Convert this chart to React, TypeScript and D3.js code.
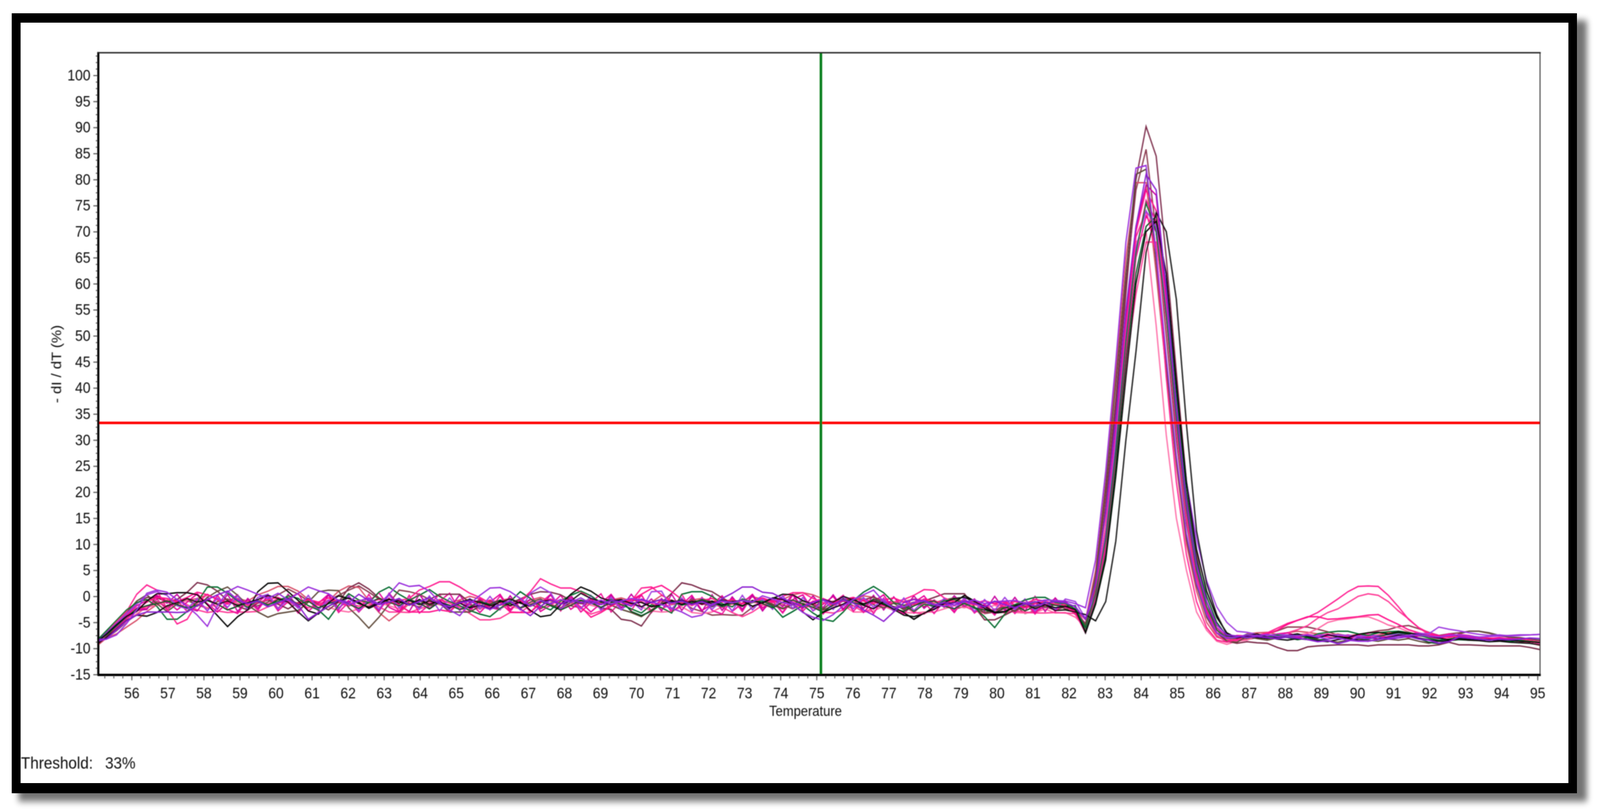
import React, { useRef, useEffect } from 'react';
import * as d3 from 'd3';

// sampled temperatures, split in three stretches: flat baseline, melt peak, tail
const tempsBase = [
  55.02, 55.3, 55.58, 55.86, 56.14, 56.42, 56.7, 56.98, 57.26, 57.54,
  57.82, 58.1, 58.38, 58.66, 58.94, 59.22, 59.5, 59.78, 60.06, 60.34,
  60.62, 60.9, 61.18, 61.46, 61.74, 62.02, 62.3, 62.58, 62.86, 63.14,
  63.42, 63.7, 63.98, 64.26, 64.54, 64.82, 65.1, 65.38, 65.66, 65.94,
  66.22, 66.5, 66.78, 67.06, 67.34, 67.62, 67.9, 68.18, 68.46, 68.74,
  69.02, 69.3, 69.58, 69.86, 70.14, 70.42, 70.7, 70.98, 71.26, 71.54,
  71.82, 72.1, 72.38, 72.66, 72.94, 73.22, 73.5, 73.78, 74.06, 74.34,
  74.62, 74.9, 75.18, 75.46, 75.74, 76.02, 76.3, 76.58, 76.86, 77.14,
  77.42, 77.7, 77.98, 78.26, 78.54, 78.82, 79.1, 79.38, 79.66, 79.94,
  80.22, 80.5, 80.78, 81.06, 81.34, 81.62, 81.9
];
const tempsPeak = [82.18, 82.46, 82.74, 83.02, 83.3, 83.58, 83.86, 84.14, 84.42, 84.7, 84.98, 85.26, 85.54, 85.82, 86.1, 86.38, 86.66];
const tempsTail = [
  86.94, 87.22, 87.5, 87.78, 88.06, 88.34, 88.62, 88.9, 89.18, 89.46,
  89.74, 90.02, 90.3, 90.58, 90.86, 91.14, 91.42, 91.7, 91.98, 92.26,
  92.54, 92.82, 93.1, 93.38, 93.66, 93.94, 94.22, 94.5, 94.78, 95.06
];

const curveColours = [
  '#000000', '#111111', '#006b2d', '#004f22', '#7a2a48', '#8a3a50', '#5f4a3a',
  '#9a2fdc', '#8a1fd0', '#a040e0', '#ff1f90', '#ff3a96', '#e8009a', '#f0109a',
  '#d8506a', '#ff0f8a', '#ff6aa6', '#c800a0'
];
const drawOrder = [5, 14, 16, 11, 12, 13, 17, 4, 6, 10, 15, 9, 3, 2, 0, 1, 7, 8];

const baseCurves = [
  [-8.8,-7.2,-5.4,-3.8,-2.9,-0.9,0.5,0.5,0.7,0.7, 0.3,-1.6,-3.7,-5.8,-3.9,-2.6,0.9,2.5,2.6,0.9, -0.8,-2.8,-3.4,-1.2,0.1,-0.4,-1.1,-2.3,-1.4,-0.6, -0.9,-1.7,-0.6,-1.5,-1.0,-2.1,-1.3,-2.2,-1.7,-2.4, -0.9,-1.8,-1.0,-2.7,-3.9,-3.6,-1.6,0.4,1.8,1.0, -0.3,-0.9,-0.6,-1.4,-1.1,-2.0,-1.6,-0.8,-1.5,-0.9, -1.5,-0.9,-1.7,-1.0,-0.8,-1.9,-1.2,-0.3,-0.6,-1.6, -3.0,-4.5,-3.1,-2.2,-1.5,-0.5,-1.7,-2.4,-1.0,-2.1, -3.1,-4.4,-3.2,-2.5,-1.4,-1.2,0.2,-0.9,-2.3,-3.2, -3.0,-2.1,-1.4,-1.0,-1.6,-2.2,-1.9],
  [-9.2,-7.9,-6.3,-4.6,-3.6,-3.8,-3.1,-1.8,-1.2,-0.4, -1.1,-0.7,-1.5,-0.9,-1.7,-1.2,-0.6,0.2,-0.4,-1.1, -3.0,-4.7,-3.2,-1.9,-0.9,-0.3,-1.4,-2.0,-1.1,-0.5, -1.3,-0.8,-1.6,-0.9,-1.4,-2.3,-1.1,-0.6,-1.2,-1.8, -1.1,-0.5,-1.3,-1.9,-1.0,-0.7,-1.5,-0.9,0.6,-0.4, -1.0,-1.6,-0.8,-1.3,-2.0,-1.1,-0.6,-1.2,-0.7,-1.5, -0.9,-1.4,-0.7,-1.2,-1.8,-0.8,-1.3,-0.4,0.4,0.3, -0.8,-1.5,-0.6,-1.1,0.0,-0.7,-1.4,-0.9,-1.6,-2.5, -3.6,-3.9,-3.3,-2.0,-1.2,-0.4,-0.2,-1.0,-1.9,-3.0, -2.9,-1.8,-1.2,-2.4,-1.6,-2.7,-2.6],
  [-8.6,-6.6,-4.6,-2.6,-1.2,-0.6,-1.9,-4.4,-4.4,-2.9, -1.1,1.8,1.8,0.6,-0.9,-2.1,-0.8,-1.6,-1.0,0.1, -0.4,-1.8,-2.6,-4.4,-1.7,0.5,-0.7,-1.2,0.8,1.8, 0.4,-0.7,0.2,1.3,0.0,-1.0,-1.8,-2.7,-3.4,-3.9, -2.3,-1.0,0.9,-0.4,-1.8,-2.6,-0.9,0.2,1.0,0.1, -1.2,-0.6,-1.6,-2.4,-3.2,-1.6,-2.2,-3.2,0.4,0.9, 0.9,0.0,-1.4,-2.0,-0.5,-1.1,-0.9,-1.9,-4.0,-2.9, -1.7,-3.2,-4.4,-4.8,-3.0,-0.8,0.8,1.9,0.7,-1.2, -1.7,-2.9,-1.5,-1.9,-0.8,-0.6,-1.4,-2.1,-3.9,-6.0, -3.4,-1.6,-0.7,-0.2,-0.2,-1.2,-1.4],
  [-8.9,-7.4,-5.7,-3.9,-2.4,-1.8,-1.4,-0.9,-1.6,-2.2, -1.7,-0.8,-1.5,-2.6,-1.9,-1.2,-1.0,-1.7,-0.6,-0.3, -1.6,-0.9,-2.2,-1.4,-0.8,-1.5,-2.3,-1.2,-0.4,-1.1, -1.8,-0.6,-1.3,-2.4,-1.1,-1.7,-2.5,-2.0,-1.0,-1.5, -0.7,-1.4,-2.2,-1.6,-0.9,-1.8,-2.6,-1.7,-0.8,-1.3, -2.1,-1.2,-0.7,-2.9,-3.7,-2.8,-1.5,-0.9,-1.7,-1.2, -0.6,-1.1,-2.0,-1.3,-1.9,-0.8,-1.4,-2.2,-1.1,-0.7, -1.5,-2.1,-3.0,-1.6,-0.6,-1.2,-1.7,-0.5,-1.3,-2.4, -2.9,-1.8,-1.1,-0.9,-1.9,-2.4,-1.3,-2.2,-2.6,-3.1, -2.2,-1.6,-2.8,-1.9,-1.2,-1.7,-1.9],
  [-9.4,-7.8,-5.6,-3.2,-1.4,-0.2,-0.3,-1.0,-0.6,0.8, 2.65,2.2,1.0,-0.8,-1.9,-2.6,-1.3,-0.7,-1.5,-2.4, -1.2,-0.4,-1.6,-2.6,-1.1,1.6,2.6,1.4,-0.3,-1.2, -0.7,-1.4,-2.1,-0.6,0.4,0.4,0.4,-1.2,-0.8,-1.7, -2.4,-1.3,-0.5,0.4,0.9,0.8,0.3,-0.8,-1.4,-1.0, -2.3,-2.5,-4.4,-4.7,-5.7,-3.0,-1.2,0.6,2.6,2.2, 1.4,0.9,-0.3,-1.3,-1.9,-1.0,-0.6,-1.7,-2.4,-1.5, -0.8,-1.7,-2.6,-1.8,-0.9,-0.4,-0.7,-0.1,-1.1,-2.0, -2.2,-1.4,-0.9,-0.2,0.5,0.5,0.5,-2.0,-4.5,-4.5, -3.6,-2.6,-1.9,-2.1,-1.2,-1.7,-1.1],
  [-9.0,-8.0,-6.6,-4.9,-3.5,-1.9,-1.0,-2.1,-1.3,-0.8, -1.6,-2.3,-1.0,-0.5,-1.4,-2.1,-1.8,-1.1,0.3,1.4, 0.4,-0.9,-1.7,-0.8,0.2,1.2,2.0,0.8,-0.5,-1.3, 1.2,0.9,0.4,-0.6,-1.3,-2.0,-0.9,-1.6,-2.3,-1.2, -0.8,-1.9,-0.6,-1.5,-2.4,-1.3,-0.7,-1.8,-2.2,-1.0, -1.4,-0.9,-1.7,-0.6,-1.2,-2.0,-0.8,-1.6,-1.1,-2.3, -2.9,-3.6,-3.5,-3.6,-3.6,-2.1,-1.2,-0.8,-1.6,-2.4, -1.3,-2.2,-0.7,-1.5,-0.9,-1.8,-2.3,-0.6,-1.4,-2.2, -1.7,-1.1,-2.0,-0.8,-1.6,-2.5,-1.9,-1.2,-3.3,-3.0, -2.4,-1.7,-3.3,-2.8,-2.0,-2.6,-2.0],
  [-8.4,-6.9,-5.0,-3.1,-0.9,0.3,-1.4,-2.9,-1.5,-0.4, -1.9,-0.2,1.0,1.8,0.2,-1.7,-3.0,-4.0,-3.3,-3.0, -2.7,-1.1,0.9,1.2,1.1,-2.2,-4.0,-6.1,-4.0,-1.5, -0.6,-1.6,-0.9,-1.8,-1.3,-3.0,-3.0,-3.0,-1.9,-0.8, -1.7,-0.9,-2.2,-1.1,-0.5,-1.6,-2.3,-1.2,-0.7,-1.4, -0.9,-1.7,-2.5,-3.1,-3.9,-2.6,-1.4,-0.7,-1.5,-0.6, -1.3,-2.0,-1.1,-0.7,-1.8,-1.2,-0.5,-1.5,-2.3,-1.6, -0.9,-1.7,-2.4,-1.0,-0.3,-0.8,-0.4,-1.6,-2.2,-1.3, -2.6,-1.4,-1.0,-1.8,-0.7,-0.3,-1.2,-2.3,-3.1,-2.6, -2.0,-2.9,-1.5,-1.3,-2.1,-1.6,-2.4],
  [-8.6,-8.2,-7.4,-5.2,-2.6,0.6,1.2,0.8,-0.6,-1.9, -3.6,-5.75,-1.8,0.9,1.9,1.2,0.4,-0.4,0.6,-0.7, 0.6,1.8,1.1,0.5,-0.8,-1.6,-0.9,-0.3,-1.5,0.4, 2.6,1.9,2.1,1.0,-1.1,-2.6,-3.7,-1.4,0.2,1.6, 1.7,0.9,-0.4,-1.9,-0.8,-1.4,-0.6,-1.1,-0.3,-1.4, -0.7,-1.5,-0.9,-0.4,-0.7,-1.1,-1.6,-2.3,-3.0,-4.0, -3.6,-1.5,-0.9,-1.2,-0.8,-1.1,0.1,-0.5,-1.2,-1.6, -3.1,-4.0,-4.6,-3.5,-1.8,-0.6,0.3,1.2,-1.0,-2.2, -2.0,-1.2,-0.8,-1.6,-1.9,-1.3,-1.1,-0.7,-1.4,-1.0, -0.9,-0.8,-1.3,-1.1,-0.7,-0.8,-0.9],
  [-8.3,-8.2,-6.4,-4.7,-3.6,-3.0,-3.0,-3.0,-3.1,-3.0, -1.8,-0.6,0.3,1.0,-0.7,-1.4,-0.9,-2.0,-1.2,-0.5, -1.7,-4.4,-3.1,-1.9,-0.7,-1.2,0.4,-0.8,-1.6,-1.1, -0.4,-1.7,-1.0,-0.2,-1.4,-2.0,-1.2,-0.9,-1.8,-2.5, -1.6,-0.9,-2.4,-3.7,-1.9,-0.7,-1.5,-0.6,-1.2,-0.9, -1.6,-0.8,-1.1,-1.9,-0.5,-1.2,-0.6,-1.3,-0.9,-1.6, -1.0,-1.8,-0.4,0.6,1.8,1.8,0.8,0.6,-0.4,-1.2, -2.0,-1.1,-0.6,-1.5,-0.7,-1.3,-2.6,-3.6,-4.8,-3.0, -1.2,-0.6,-0.9,-1.6,-1.2,-1.7,-0.9,-1.4,-2.0,-0.9, -1.6,-2.2,-1.4,-1.8,-1.3,-1.0,-1.2],
  [-8.8,-7.0,-5.2,-3.3,-1.5,0.3,0.9,0.2,-1.8,-2.4, -0.4,-2.8,-0.3,-2.1,0.1,-2.5,-0.2,0.4,-2.4,-0.6, -2.3,0.2,-2.6,-0.7,-2.4,0.1,-2.8,-0.6,-2.5,0.3, -2.2,-0.4,-2.5,0.1,-2.8,-0.3,-2.7,-0.4,-2.4,0.0, -2.5,-0.7,-2.6,0.6,1.8,0.7,-2.5,-0.5,-2.4,0.2, -2.7,-0.2,-2.6,-0.9,-2.6,0.9,1.0,-2.4,-0.3,-2.8, -0.4,-2.5,-0.6,-2.8,0.2,-2.6,-0.5,-2.5,0.1,-2.3, -0.2,-2.8,-0.7,-2.5,0.0,-2.4,-0.2,-2.1,-0.5,-2.9, -0.3,-2.7,-0.7,-2.3,-0.4,-2.5,-0.3,-2.9,-0.6,-2.7, -0.2,-2.5,-0.5,-2.8,-0.9,-2.6,-0.5],
  [-9.0,-7.1,-4.9,-2.9,0.4,2.2,1.2,-2.4,-5.3,-4.4, -1.2,0.4,-0.7,-1.5,-0.9,-1.7,-1.2,-0.6,-0.2,-1.1, -1.5,-0.8,-1.7,-1.2,-0.7,-1.3,-1.9,-1.0,-0.6,-1.4, -0.8,-0.4,1.2,1.9,2.8,2.8,1.8,0.6,-0.2,-1.3, -1.0,-1.8,-0.9,0.9,3.4,2.4,1.6,1.6,0.9,-0.5, -1.3,-0.7,-1.5,-0.9,1.6,1.8,0.3,-1.0,-1.4,-0.8, -1.6,-1.1,-0.6,-1.3,-1.8,-0.9,-0.5,-1.2,0.0,0.7, 0.7,-0.4,-1.2,-1.7,-0.8,-1.3,-0.6,-1.0,-1.8,-1.1, -0.6,0.2,1.3,1.2,-0.3,-1.1,-0.7,-1.4,-0.8,-1.5, -1.9,-1.0,-1.4,-0.6,-0.9,-1.5,-1.7],
  [-9.3,-8.0,-6.1,-4.4,-2.8,-1.9,-1.3,-0.9,-0.6,-1.6, -2.6,-3.1,-2.8,-3.1,-3.0,-3.0,-2.9,-2.0,-1.4,-0.8, -1.3,-2.2,-1.5,-0.7,-1.2,-1.9,-0.9,-1.4,-2.0,-3.0, -3.0,-3.1,-2.4,-1.8,-0.7,-1.3,-2.1,-3.3,-4.5,-4.5, -4.2,-3.1,-3.1,-1.7,-0.9,-1.6,-0.7,-1.2,-2.3,-3.4, -2.8,-1.7,-1.0,-1.6,-0.8,-1.3,-2.4,-1.5,-0.9,-1.8, -0.9,-1.4,-2.1,-3.1,-3.9,-3.0,-1.7,-1.0,-0.7,-1.5, -2.2,-1.4,-3.0,-3.2,-2.6,-1.8,-3.0,-2.3,-1.6,-1.0, -1.9,-3.1,-3.4,-2.2,-1.6,-1.1,-1.9,-2.8,-3.2,-2.4, -3.2,-2.8,-3.0,-3.2,-3.2,-3.1,-3.2],
  [-8.9,-7.3,-5.5,-3.4,-1.8,-0.8,0.2,-0.9,-2.6,-1.1, 0.5,-1.4,-3.0,-1.2,0.3,-2.6,-1.1,0.4,-2.3,-0.4, 0.6,-2.8,-1.3,0.4,-2.2,-0.8,-3.0,-0.9,0.7,-2.1, -3.0,-1.0,0.5,-2.4,-0.9,0.6,-2.7,-1.2,-3.1,-1.1, 0.4,-2.5,-1.0,0.6,-2.9,-1.7,0.2,-2.5,-1.1,-3.0, -1.3,0.4,-2.2,-1.1,0.3,-2.9,-0.4,-3.0,-1.6,0.2, -2.7,-1.5,0.1,-2.9,-1.3,0.4,-2.2,-0.9,-3.2,-0.6, 0.3,-2.8,-1.5,0.0,-2.7,-0.5,-3.1,-1.0,0.3,-2.5, -3.4,-1.2,0.1,-2.4,-1.0,-3.1,-0.4,-2.9,-1.5,-3.2, -1.2,-2.9,-0.6,-3.1,-1.8,-0.4,-2.1],
  [-8.5,-6.9,-5.2,-3.6,-2.2,-2.4,-0.5,-2.6,-0.8,-2.9, -0.7,-2.8,0.2,-2.5,-3.3,-0.6,-2.7,0.1,-2.8,-1.0, -3.2,-0.5,-2.5,0.3,-3.1,-1.1,-2.8,0.4,-2.7,-0.3, -2.9,0.2,-3.2,-1.6,0.4,-2.9,-0.9,-3.0,-0.3,-2.6, 0.1,-2.9,-0.4,-3.1,-1.3,0.4,-2.8,-0.2,-3.0,-1.2, 0.5,-3.0,-0.9,-2.7,0.3,-3.1,-0.6,-2.8,0.4,-2.9, -0.2,-2.7,-3.4,-0.4,-2.9,0.2,-2.6,-0.8,-3.1,0.3, -2.8,-0.9,-3.4,-1.2,0.2,-2.9,-0.5,-3.3,-0.3,-2.8, -0.4,-3.2,-1.1,-3.3,-0.9,-2.9,-0.7,-3.2,-1.6,-3.6, -1.0,-3.3,-1.2,-3.4,-0.9,-2.9,-0.8],
  [-9.6,-8.0,-7.2,-5.9,-4.6,-2.9,-1.6,-0.7,-1.2,-0.8, -0.4,0.3,-0.6,-1.1,-0.4,-0.9,0.3,1.0,1.9,1.9, 1.0,-0.6,-1.4,-0.9,1.0,2.0,1.7,-0.8,-3.1,-4.7, -3.2,-1.4,-0.8,-1.3,-0.6,-1.2,-0.7,0.0,-0.5,-1.1, -0.8,-0.4,-1.3,-0.7,-0.2,-0.9,-1.4,-0.5,-1.0,-0.6, -1.2,-0.7,-0.3,-0.9,-0.6,-1.1,0.2,-0.8,-1.3,-0.7, -0.4,-1.0,-0.6,-1.2,-0.8,-0.1,-0.5,-1.1,-0.6,0.3, 0.7,0.3,-0.5,-1.1,-0.4,-0.9,0.1,-0.2,-0.8,-1.3, -1.0,-0.5,-0.8,-1.3,-0.6,-1.0,-1.5,-0.9,-1.4,-1.1, -1.5,-1.0,-1.6,-1.9,-1.2,-1.4,-1.1],
  [-8.7,-7.2,-5.6,-3.9,-2.5,-1.1,-0.2,-0.4,-1.0,-0.2, 0.8,0.3,-0.5,-1.2,-0.6,-1.3,-0.8,-1.5,-0.4,-0.9, -1.4,-0.6,-1.1,-0.3,-1.0,-1.6,-0.7,-1.2,-0.5,-1.0, -1.5,-3.0,-3.0,-3.0,-2.6,-2.9,-1.3,-0.9,-1.4,-0.7, -1.2,-3.0,-3.1,-3.1,-1.0,-0.5,-1.3,-0.8,-2.0,-4.0, -3.1,-1.9,-1.0,-0.7,0.4,1.5,2.1,0.9,-0.6,-1.3, -0.8,-0.4,-1.1,-0.6,-1.4,-0.9,-0.3,-1.0,-0.5,-1.2, -1.8,-1.0,-0.4,-1.3,-0.6,-0.2,-0.9,-1.4,-0.7,-0.3, -1.1,-1.6,-0.5,-0.9,-1.3,-0.7,-1.2,-1.6,-0.9,-1.4, -1.0,-1.6,-2.2,-1.4,-1.0,-1.7,-1.6],
  [-9.1,-7.7,-6.2,-4.9,-3.3,-2.1,-1.7,-1.1,-1.5,-0.7, -1.4,-2.2,-1.6,-0.9,-1.3,-2.0,-1.2,-1.7,-0.8,-1.3, -1.9,-1.0,-1.5,-2.1,-2.7,-3.0,-2.4,-1.7,-1.2,-1.8, -2.4,-1.5,-2.0,-1.1,-1.6,-2.2,-1.3,-1.8,-2.5,-1.7, -1.2,-1.9,-2.4,-1.4,-0.8,-1.5,-2.1,-1.6,-1.0,-1.7, -2.2,-1.3,-0.8,-1.5,-2.0,-2.8,-3.0,-2.9,-2.0,-3.1, -3.3,-3.0,-2.0,-1.5,-1.9,-1.1,-1.6,-2.2,-1.4,-1.0, -1.6,-2.3,-1.4,-0.9,-1.7,-3.0,-3.0,-2.8,-1.9,-2.7, -3.1,-3.2,-3.0,-3.0,-2.4,-1.8,-2.2,-1.6,-2.3,-1.7, -2.6,-3.1,-3.2,-3.1,-2.4,-3.2,-3.1],
  [-8.7,-7.5,-5.9,-4.1,-2.7,-2.5,0.1,-1.3,0.4,-2.2, -2.8,-0.1,-2.5,0.4,-2.9,-0.4,-2.3,0.2,-2.5,0.4, -2.1,-0.6,-2.8,0.3,-2.6,0.2,-2.7,-0.5,-2.9,0.6, -1.7,-2.9,0.4,-2.3,-0.8,-2.3,0.3,-2.5,-0.7,-2.1, -2.6,0.1,-2.3,-0.5,-2.2,0.3,-2.4,0.2,-2.3,-0.5, -2.5,0.2,-2.2,0.4,-2.1,-0.5,-2.8,0.4,-2.7,-0.2, -2.9,0.3,-2.7,-0.1,-2.5,0.2,-2.8,-0.4,-2.0,0.4, -2.3,0.1,-2.2,0.3,-2.4,-0.4,-2.3,0.2,-2.6,-0.1, -2.5,0.1,-2.3,-0.7,-2.1,0.1,-1.9,-0.5,-2.9,0.0, -2.7,-0.2,-2.8,0.0,-2.9,-0.3,-2.5]
];

const peakCurves = [
  [-2.6,-7,-1.5,7,23,42,60,70,72,62,41,22,9,1,-4,-7,-8],
  [-3,-3.5,-4.7,-1,10.6,30,47,66,73.7,70,57,33,12.5,2.5,-3.5,-7.3,-8],
  [-2.4,-6,0.5,11,28,49,66,75.5,70,54,34,17,5,-2,-6.4,-8,-8],
  [-1.8,-6.8,-1,8,25,45,62,71,73,60,39,20,7,0,-5,-7.6,-7.8],
  [-3.5,-5.6,1.5,17,36,58,80,90.2,84.5,65,43,22,8,-1,-6.4,-8.6,-9],
  [-3,-5.2,3,19,38,60,78,85.8,70,50,30,14,3,-4,-7.5,-8.8,-8.5],
  [-2.8,-5.5,4,21,41,62,81,82,64,44,26,11,2,-4,-7,-8.6,-8.8],
  [-1.4,-2.2,7,24,45,68,82.2,82.7,66,46,27,12,2.5,-3.5,-7,-8,-7.8],
  [-2,-4.4,2.5,16,34,55,71,81,78,59,36,18,6,-1,-5.5,-7.4,-7.6],
  [-1,-4.2,0.5,12,30,50,67,74,71,55,38,22,11,3,-2,-5,-6.7],
  [-3.5,-6.2,1,13,31,52,69,74,66,42,22,8,-1,-6,-8.4,-8.8,-8.2],
  [-3.3,-7,-1,8.5,24,44,58,68,68,53,32,15,3,-4,-7.5,-8.7,-8.5],
  [-2.8,-6.5,-0.5,9,26,46,65,73,70,54,33,16,4,-3,-7,-8.6,-8.3],
  [-3.2,-6.8,0,10,28,48,66,76,72,55,35,17,5,-2.5,-6.5,-8.2,-8],
  [-2.5,-4.5,5,22,43,65,79.4,79.4,62,43,25,10,1,-5,-7.8,-8.5,-8.2],
  [-3,-6,0.5,12,29,51,70,78,74,56,36,18,6,-2,-6.5,-8,-7.5],
  [-4,-6,2,15,33,54,68,70,52,31,15,5,-3,-6.5,-8.6,-9.2,-8.6],
  [-2.2,-5.5,0.8,13,32,53,71,79,77,57,37,19,7,-1,-6,-7.8,-7.7]
];

const tailCurves = [
  [-7.6,-7.9,-8.1,-7.8,-7.5,-7.2,-7.7,-8.0,-7.4,-7.7,-7.9,-7.3,-7.0,-6.9,-7.2,-6.8,-7.1,-7.3,-7.6,-8.0,-8.3,-8.1,-8.2,-8.4,-8.3,-8.5,-8.4,-8.6,-8.7,-8.9],
  [-7.5,-7.2,-7.8,-8.2,-8.4,-8.1,-8.3,-8.5,-8.7,-8.3,-8.0,-8.4,-8.6,-8.2,-7.9,-7.4,-7.6,-8.0,-8.3,-8.6,-8.5,-8.2,-8.4,-8.5,-8.7,-8.6,-8.8,-8.9,-9.0,-9.3],
  [-7.3,-7.6,-7.8,-7.4,-7.7,-7.5,-7.9,-7.2,-6.9,-6.7,-6.7,-7.2,-7.5,-7.0,-6.8,-6.7,-6.9,-7.4,-8.0,-8.4,-8.2,-7.9,-8.1,-8.2,-8.4,-8.3,-8.6,-8.5,-8.6,-8.8],
  [-8.0,-7.7,-8.1,-7.6,-7.9,-8.3,-8.0,-8.4,-8.2,-7.8,-8.1,-8.5,-8.2,-7.7,-7.3,-7.0,-7.3,-8.1,-8.8,-9.1,-8.5,-8.3,-8.4,-8.2,-8.3,-8.5,-8.3,-8.4,-8.6,-8.8],
  [-8.7,-8.9,-9,-9.8,-10.4,-10.4,-9.7,-9.5,-9.4,-9.3,-9.3,-9.3,-9.5,-9.3,-9.3,-9.3,-9.3,-9.5,-9.5,-9.3,-8.8,-9.3,-9.3,-9.4,-9.5,-9.5,-9.5,-9.5,-9.8,-10.2],
  [-8.3,-7.9,-7.2,-6.6,-5.9,-5.9,-5.9,-6.3,-6.8,-7.4,-7.6,-7.5,-7,-6.6,-6.4,-5.8,-5.6,-6.2,-6.9,-7.5,-7.2,-7,-6.7,-6.7,-7.1,-7.6,-7.8,-7.9,-8.2,-8.5],
  [-7.7,-8.1,-8.4,-8.0,-7.6,-7.3,-7.8,-8.3,-8.5,-8.8,-8.4,-8.1,-8.4,-8.6,-8.2,-8.4,-8.1,-8.6,-9.0,-8.6,-8.7,-7.2,-6.7,-6.7,-7.0,-7.5,-7.8,-8.0,-8.2,-8.4],
  [-7.4,-7.6,-7.3,-7.7,-7.5,-7.6,-7.4,-7.8,-8.2,-8.0,-8.4,-8.6,-8.6,-8.3,-8.0,-7.7,-7.5,-7.4,-7.6,-7.8,-7.5,-7.4,-7.6,-7.8,-7.7,-7.6,-7.5,-7.4,-7.4,-7.3],
  [-7.9,-7.7,-7.9,-8.1,-7.8,-8.0,-8.3,-8.7,-8.5,-9.1,-8.6,-7.9,-8.1,-7.8,-8.2,-8.0,-7.7,-8.2,-8.4,-9.0,-8.7,-7.8,-8.0,-8.2,-8.4,-8.2,-8.3,-8.2,-8.0,-8.1],
  [-6.9,-7.3,-7.5,-7.3,-7.4,-7.5,-7.6,-7.4,-7.5,-7.4,-7.5,-7.7,-7.5,-7.6,-7.4,-7.3,-7.2,-7.1,-7.2,-5.9,-6.3,-6.6,-7,-7.3,-7.5,-7.4,-7.6,-7.5,-7.4,-7.3],
  [-7.8,-7.5,-7,-6.1,-5.2,-4.6,-4.0,-3.1,-1.8,-0.5,0.9,1.9,2,1.9,0.2,-2,-4.4,-6,-7,-7.8,-7.4,-7.9,-8,-8.1,-8.2,-8.3,-8.5,-8.5,-8.6,-8.7],
  [-8,-7.7,-7.8,-7.4,-7,-6.4,-5.6,-4.2,-3.1,-2.4,-1.2,0,0.5,0.2,-1,-2.8,-4.3,-6,-7.3,-7.9,-8.2,-7.7,-7.8,-8,-8.3,-8.2,-8.4,-8.4,-8.5,-8.6],
  [-7.8,-7.4,-7.7,-7.2,-7.0,-7.6,-7.9,-7.5,-7.8,-8.1,-7.7,-7.4,-7.8,-7.5,-7.9,-7.6,-7.2,-7.0,-7.5,-7.7,-7.2,-7.5,-7.8,-7.9,-8.0,-8.2,-8.0,-8.3,-8.5,-8.6],
  [-7.6,-8.0,-7.5,-7.9,-7.4,-7.8,-7.3,-7.6,-7.2,-7.7,-7.4,-7.8,-7.3,-7.6,-8.0,-7.6,-7.9,-7.3,-7.0,-7.5,-7.9,-7.5,-7.8,-8.0,-8.1,-7.9,-8.2,-8.3,-8.6,-9.0],
  [-7.2,-7.0,-6.9,-7.3,-7.0,-6.7,-6.9,-7.2,-7.5,-7.2,-7.6,-7.3,-7.7,-7.4,-7.0,-6.7,-7.0,-7.4,-7.7,-7.9,-7.4,-7.6,-7.7,-7.9,-8.0,-8.2,-8.3,-8.6,-8.9,-9.4],
  [-7.6,-7.4,-7.2,-6.5,-5.4,-4.6,-3.9,-3.9,-4.4,-4.3,-4.1,-3.9,-3.6,-3.5,-4.5,-5.4,-6.4,-7,-7.4,-7.7,-7.8,-7.3,-7.5,-7.9,-8,-8.1,-8.3,-8.1,-8.4,-8.7],
  [-8.4,-7.6,-7.7,-7.8,-7.4,-7.4,-7.1,-6.2,-5,-4.5,-4.3,-4,-3.9,-4.6,-5.5,-6,-6.8,-7.4,-7.6,-8,-7.7,-7.9,-8.2,-8.4,-8.3,-8.5,-8.5,-8.6,-8.8,-9],
  [-7.7,-7.9,-7.4,-7.8,-7.5,-8.0,-7.6,-7.9,-7.4,-7.8,-8.1,-7.6,-7.9,-8.2,-7.7,-7.5,-7.9,-7.6,-7.8,-8.1,-7.5,-7.7,-8.0,-7.9,-8.2,-8.1,-8.4,-8.3,-8.5,-8.4]
];

const xTickValues = [56,57,58,59,60,61,62,63,64,65,66,67,68,69,70,71,72,73,74,75,76,77,78,79,80,81,82,83,84,85,86,87,88,89,90,91,92,93,94,95];
const yTickValues = [-15,-10,-5,0,5,10,15,20,25,30,35,40,45,50,55,60,65,70,75,80,85,90,95,100];
const thresholdValue = 33.3;
const markerTemp = 75.12;

const font = '"Liberation Sans", Arial, sans-serif';

export default function App(): JSX.Element {
  const svgRef = useRef<SVGSVGElement>(null);

  useEffect(() => {
    if (svgRef.current == null) {
      return;
    }
    const svg = d3.select(svgRef.current);
    svg.selectAll('*').remove();

    const left = 278;
    const right = 4340;
    const top = 135;
    const bottom = 1727;

    const x = d3.scaleLinear().domain([56, 95]).range([371, 4333]);
    const y = d3.scaleLinear().domain([-15, 100]).range([bottom, 193]);

    const defs = svg.append('defs');
    defs.append('filter').attr('id', 'shadow').attr('x', '-5%').attr('y', '-5%').attr('width', '110%').attr('height', '110%')
      .append('feGaussianBlur').attr('stdDeviation', 9);
    defs.append('filter').attr('id', 'soft').attr('x', '-5%').attr('y', '-5%').attr('width', '110%').attr('height', '110%')
      .append('feGaussianBlur').attr('stdDeviation', 0.9);
    defs.append('clipPath').attr('id', 'plot')
      .append('rect').attr('x', left).attr('y', top).attr('width', right - left).attr('height', bottom - top);

    // picture frame with its drop shadow
    svg.append('rect').attr('x', 52).attr('y', 52).attr('width', 4420).attr('height', 2000)
      .attr('fill', '#000').attr('opacity', 0.55).attr('filter', 'url(#shadow)');
    svg.append('rect').attr('x', 33).attr('y', 34).attr('width', 4411).attr('height', 1997).attr('fill', '#000');
    svg.append('rect').attr('x', 58).attr('y', 58).attr('width', 4362).attr('height', 1947).attr('fill', '#fff');

    const chart = svg.append('g').attr('filter', 'url(#soft)');

    // curves
    const line = d3.line<[number, number]>().x((d) => x(d[0])).y((d) => y(d[1]));
    const curvePoints = (i: number): [number, number][] => [
      ...baseCurves[i].map((v, k): [number, number] => [tempsBase[k], v]),
      ...peakCurves[i].map((v, k): [number, number] => [tempsPeak[k], v]),
      ...tailCurves[i].map((v, k): [number, number] => [tempsTail[k], v])
    ];
    chart.append('g').attr('clip-path', 'url(#plot)')
      .selectAll('path')
      .data(drawOrder)
      .join('path')
      .attr('d', (i) => line(curvePoints(i)))
      .attr('fill', 'none')
      .attr('stroke', (i) => curveColours[i])
      .attr('stroke-width', 3.5)
      .attr('stroke-linejoin', 'miter');

    // threshold and marker
    chart.append('line').attr('x1', left).attr('x2', right).attr('y1', y(thresholdValue)).attr('y2', y(thresholdValue))
      .attr('stroke', '#ff0000').attr('stroke-width', 6.5);
    chart.append('line').attr('x1', x(markerTemp)).attr('x2', x(markerTemp)).attr('y1', top).attr('y2', bottom)
      .attr('stroke', '#007a12').attr('stroke-width', 7);

    // minor ticks every quarter of a major step
    const xMinor = d3.axisBottom(x).tickValues(d3.range(55.25, 95.01, 0.25)).tickSize(10).tickFormat(() => '');
    const yMinor = d3.axisLeft(y).tickValues(d3.range(-15, 104.5, 1.25)).tickSize(8).tickFormat(() => '');
    [
      chart.append('g').attr('transform', `translate(0,${bottom})`).call(xMinor),
      chart.append('g').attr('transform', `translate(${left},0)`).call(yMinor)
    ].forEach((g) => {
      g.select('.domain').remove();
      g.selectAll('line').attr('stroke', '#666').attr('stroke-width', 3);
    });

    const xAxis = d3.axisBottom(x).tickValues(xTickValues).tickSize(15).tickPadding(18).tickFormat((d) => `${d}`);
    const yAxis = d3.axisLeft(y).tickValues(yTickValues).tickSize(15).tickPadding(8).tickFormat((d) => `${d}`);
    [
      chart.append('g').attr('transform', `translate(0,${bottom})`).call(xAxis),
      chart.append('g').attr('transform', `translate(${left},0)`).call(yAxis)
    ].forEach((g) => {
      g.select('.domain').remove();
      g.selectAll('line').attr('stroke', '#666').attr('stroke-width', 3);
      g.selectAll('text').attr('font-family', font).attr('font-size', 39).attr('fill', '#111');
    });

    // plot box
    chart.append('line').attr('x1', left - 1).attr('x2', left - 1).attr('y1', top - 2).attr('y2', bottom + 3)
      .attr('stroke', '#000').attr('stroke-width', 6);
    chart.append('line').attr('x1', left - 3).attr('x2', right + 2).attr('y1', bottom + 1).attr('y2', bottom + 1)
      .attr('stroke', '#000').attr('stroke-width', 6);
    chart.append('line').attr('x1', left - 3).attr('x2', right + 2).attr('y1', top).attr('y2', top)
      .attr('stroke', '#222').attr('stroke-width', 3.5);
    chart.append('line').attr('x1', right).attr('x2', right).attr('y1', top).attr('y2', bottom)
      .attr('stroke', '#222').attr('stroke-width', 2.5);

    // titles
    const label = (text: string, px: number, py: number, size: number, anchor: string, rotate?: number) => {
      chart.append('text')
        .attr('transform', `translate(${px},${py})${rotate ? ` rotate(${rotate})` : ''}`)
        .attr('font-family', font)
        .attr('font-size', size)
        .attr('text-anchor', anchor)
        .attr('fill', '#111')
        .text(text);
    };
    label('Temperature', 2270, 1833, 36.5, 'middle');
    label('- dI / dT (%)', 172, 932, 38, 'middle', -90);
    label('Threshold:', 59, 1968, 43, 'start');
    label('33%', 296, 1968, 43, 'start');
  }, []);

  // the drawing is laid out in the reference's 4509x2079 pixels and fills whatever window it gets
  return (
    <svg
      ref={svgRef}
      viewBox="0 0 4509 2079"
      preserveAspectRatio="none"
      style={{ position: 'absolute', left: 0, top: 0, width: '100vw', height: '100vh', display: 'block', background: '#fff' }}
    />
  );
}
